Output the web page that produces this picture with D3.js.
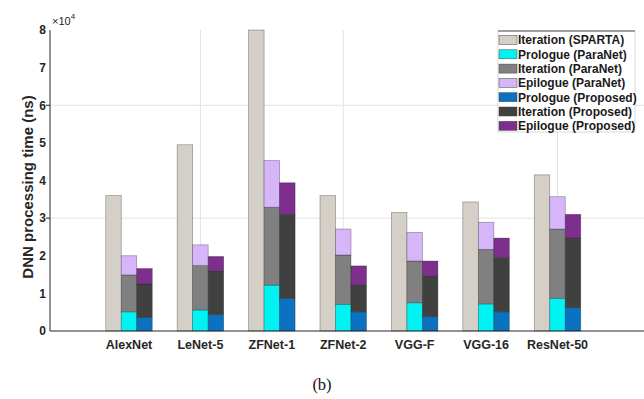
<!DOCTYPE html>
<html>
<head>
<meta charset="utf-8">
<script src="https://cdn.jsdelivr.net/npm/d3@7/dist/d3.min.js"></script>
<style>
  html, body { margin: 0; padding: 0; background: #fff; }
  svg { display: block; }
  text { font-family: "Liberation Sans", Arial, Helvetica, sans-serif; }
</style>
</head>
<body>
<svg id="chart" width="644" height="399"></svg>
<script>
// ---- data (values in ns) ----
const categories = ["AlexNet", "LeNet-5", "ZFNet-1", "ZFNet-2", "VGG-F", "VGG-16", "ResNet-50"];
const spartaIteration   = [36000, 49500, 80000, 36000, 31500, 34300, 41500];
const paranetPrologue   = [5100, 5600, 12200, 7100, 7500, 7200, 8700];
const paranetIteration  = [9800, 11800, 20700, 13100, 11100, 14500, 18400];
const paranetEpilogue   = [5100, 5500, 12400, 6900, 7600, 7200, 8600];
const proposedPrologue  = [3600, 4400, 8700, 5100, 3800, 5100, 6200];
const proposedIteration = [8900, 11600, 22300, 7100, 10900, 14400, 18500];
const proposedEpilogue  = [4100, 3800, 8400, 5100, 3900, 5200, 6300];
const yTickValues = [0, 10000, 20000, 30000, 40000, 50000, 60000, 70000, 80000];
const yTickLabels = ["0", "1", "2", "3", "4", "5", "6", "7", "8"];
const yGridValues = [30000, 60000];
const xGridCategories = ["LeNet-5", "ZFNet-2", "ResNet-50"];
const legendLabels = ["Iteration (SPARTA)", "Prologue (ParaNet)", "Iteration (ParaNet)", "Epilogue (ParaNet)",
                      "Prologue (Proposed)", "Iteration (Proposed)", "Epilogue (Proposed)"];

const colors = {
  spartaIter: "#d4d0c8",
  paraPro: "#00f3f3",
  paraIter: "#808080",
  paraEpi: "#d6b6f8",
  propPro: "#0a72c0",
  propIter: "#404040",
  propEpi: "#7e2f8e"
};
const legendColors = [colors.spartaIter, colors.paraPro, colors.paraIter, colors.paraEpi,
                      colors.propPro, colors.propIter, colors.propEpi];

// ---- layout ----
const svg = d3.select("#chart");
const axisLeft = 50, axisRight = 644, axisTop = 30, axisBottom = 331;
const x = d3.scaleLinear().domain([1, 7]).range([129, 557.5]);
const y = d3.scaleLinear().domain([0, 80000]).range([axisBottom, axisTop]);
const bw = 15.5;
const pos = c => x(categories.indexOf(c) + 1);

// grid
const grid = svg.append("g");
grid.selectAll("line.gy").data(yGridValues).join("line")
  .attr("x1", axisLeft).attr("x2", axisRight)
  .attr("y1", d => y(d)).attr("y2", d => y(d))
  .attr("stroke", "#e2e2e2").attr("stroke-width", 1);
grid.selectAll("line.gx").data(xGridCategories).join("line")
  .attr("x1", d => pos(d)).attr("x2", d => pos(d))
  .attr("y1", axisTop).attr("y2", axisBottom)
  .attr("stroke", "#e2e2e2").attr("stroke-width", 1);

// bars
function drawStack(series, offset) {
  const g = svg.append("g");
  categories.forEach((c, i) => {
    let base = 0;
    series.forEach(s => {
      const v = s.values[i];
      g.append("rect")
        .attr("x", pos(c) + offset * bw - bw / 2)
        .attr("width", bw)
        .attr("y", y(base + v))
        .attr("height", y(base) - y(base + v))
        .attr("fill", s.color)
        .attr("stroke", "#111")
        .attr("stroke-opacity", 0.4)
        .attr("stroke-width", 0.7);
      base += v;
    });
  });
}
drawStack([{ values: spartaIteration, color: colors.spartaIter }], -1);
drawStack([
  { values: paranetPrologue, color: colors.paraPro },
  { values: paranetIteration, color: colors.paraIter },
  { values: paranetEpilogue, color: colors.paraEpi }
], 0);
drawStack([
  { values: proposedPrologue, color: colors.propPro },
  { values: proposedIteration, color: colors.propIter },
  { values: proposedEpilogue, color: colors.propEpi }
], 1);

// axes
svg.append("line").attr("x1", axisLeft).attr("x2", axisLeft)
  .attr("y1", axisTop).attr("y2", axisBottom).attr("stroke", "#262626").attr("stroke-width", 1);
svg.append("line").attr("x1", axisLeft).attr("x2", axisRight)
  .attr("y1", axisBottom).attr("y2", axisBottom).attr("stroke", "#262626").attr("stroke-width", 1);
svg.selectAll("line.ytick").data(yGridValues).join("line")
  .attr("x1", axisLeft - 4).attr("x2", axisLeft)
  .attr("y1", d => y(d)).attr("y2", d => y(d))
  .attr("stroke", "#262626").attr("stroke-width", 1);

svg.selectAll("text.ylab").data(yTickValues).join("text")
  .attr("x", 46).attr("y", d => y(d)).attr("dy", "0.36em")
  .attr("text-anchor", "end")
  .attr("font-size", 12).attr("font-weight", "bold").attr("fill", "#262626")
  .text((d, i) => yTickLabels[i]);

const exp = svg.append("text").attr("x", 52).attr("y", 25).attr("font-size", 11).attr("fill", "#262626");
exp.append("tspan").text("\u00d710");
exp.append("tspan").attr("font-size", 8).attr("dy", -6).text("4");

svg.append("text")
  .attr("transform", `translate(33,187) rotate(-90)`)
  .attr("text-anchor", "middle")
  .attr("font-size", 15).attr("font-weight", "bold").attr("fill", "#262626")
  .text("DNN processing time (ns)");

svg.selectAll("text.xlab").data(categories).join("text")
  .attr("x", d => pos(d)).attr("y", 349)
  .attr("text-anchor", "middle")
  .attr("font-size", 12.5).attr("font-weight", "bold").attr("fill", "#262626")
  .text(d => d);

// legend
const lg = svg.append("g");
lg.append("rect").attr("x", 498).attr("y", 31).attr("width", 137).attr("height", 101)
  .attr("fill", "#fff").attr("stroke", "#d0d0d0").attr("stroke-width", 0.8);
lg.append("line").attr("x1", 498).attr("x2", 635).attr("y1", 31).attr("y2", 31)
  .attr("stroke", "#555").attr("stroke-width", 1.2);
legendLabels.forEach((lab, i) => {
  const cy = 40 + i * 14.3;
  lg.append("rect").attr("x", 499).attr("y", cy - 4.5).attr("width", 18).attr("height", 9)
    .attr("fill", legendColors[i]).attr("stroke", "#444").attr("stroke-width", 0.5);
  lg.append("text").attr("x", 518).attr("y", cy).attr("dy", "0.36em")
    .attr("font-size", 12).attr("font-weight", "bold").attr("fill", "#1a1a1a")
    .text(lab);
});

// caption
svg.append("text").attr("x", 322).attr("y", 390).attr("text-anchor", "middle")
  .style("font-family", "'Liberation Serif', 'Times New Roman', serif")
  .attr("font-size", 16.5).attr("fill", "#111").text("(b)");
</script>
</body>
</html>
